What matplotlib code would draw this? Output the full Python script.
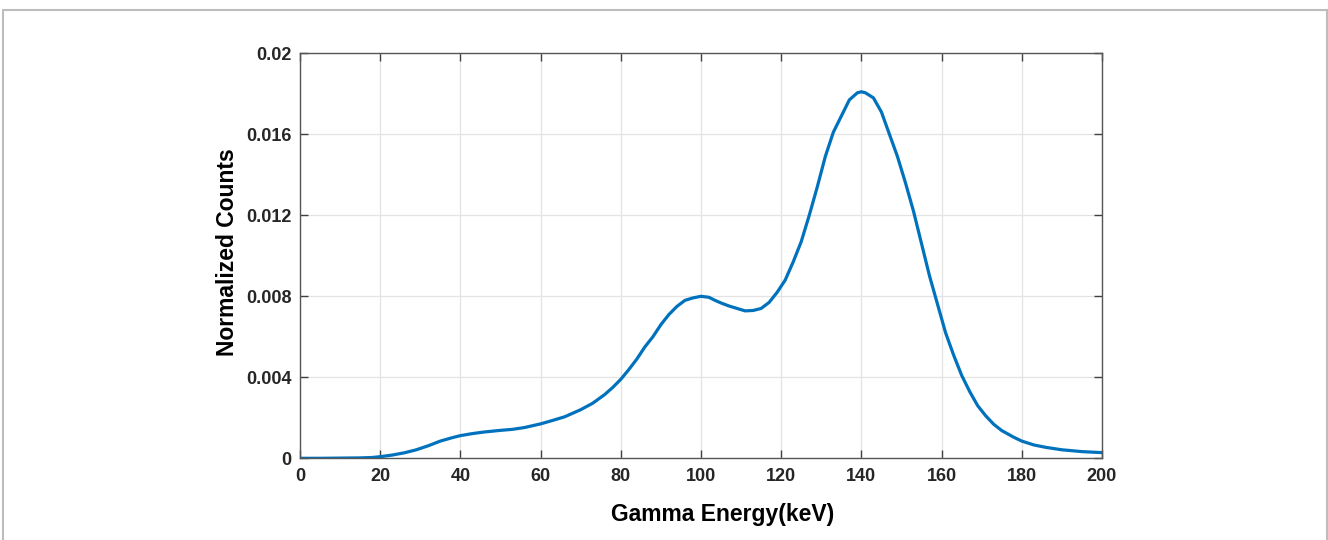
import numpy as np
import matplotlib
matplotlib.use("Agg")
import matplotlib.pyplot as plt
from matplotlib.patches import Rectangle

plt.rcParams['font.family'] = ['Liberation Sans', 'DejaVu Sans']

# energia (keV) y cuentas normalizadas
energy = [0, 5, 10, 15, 18, 20, 23, 26, 29, 32, 35, 38, 40, 43, 46, 50, 53, 56,
          60, 63, 66, 70, 73, 76, 78, 80, 82, 84, 86, 88, 90, 92, 94, 96, 98,
          100, 102, 103.5, 105, 107, 109, 111, 113, 115, 117, 119, 121, 123,
          125, 127, 129, 131, 133, 135, 137, 139, 140, 141, 143, 145, 147, 149,
          151, 153, 155, 157, 159, 161, 163, 165, 167, 169, 171, 173, 175, 178,
          180, 183, 186, 190, 195, 200]
counts = [0, 0, 0.00001, 0.00002, 0.00004, 0.00008, 0.00016, 0.00027, 0.00042,
          0.00062, 0.00085, 0.00102, 0.00112, 0.00122, 0.0013, 0.00138, 0.00143,
          0.00152, 0.0017, 0.00187, 0.00205, 0.0024, 0.00272, 0.00315, 0.0035,
          0.0039, 0.00438, 0.0049, 0.0055, 0.0060, 0.0066, 0.0071, 0.0075,
          0.0078, 0.00792, 0.0080, 0.00795, 0.0078, 0.00767, 0.00752, 0.0074,
          0.00728, 0.0073, 0.0074, 0.0077, 0.0082, 0.0088, 0.0097, 0.0107,
          0.0120, 0.0134, 0.0149, 0.0161, 0.0169, 0.0177, 0.01805, 0.0181,
          0.01805, 0.0178, 0.0171, 0.0160, 0.0149, 0.0136, 0.0122, 0.0106,
          0.0090, 0.0076, 0.0062, 0.0051, 0.0041, 0.0033, 0.0026, 0.0021,
          0.00168, 0.00137, 0.00104, 0.00085, 0.00066, 0.00054, 0.00042,
          0.00033, 0.00028]

x_ticks = [0, 20, 40, 60, 80, 100, 120, 140, 160, 180, 200]
y_ticks = [0, 0.004, 0.008, 0.012, 0.016, 0.02]
y_ticklabels = ['0', '0.004', '0.008', '0.012', '0.016', '0.02']

fig = plt.figure(figsize=(13.28, 5.40), dpi=100)
ax = fig.add_axes([0.2259, 0.1513, 0.6039, 0.75])

ax.plot(energy, counts, color='#0072BD', lw=2.3)

ax.set_xlim(0, 200)
ax.set_ylim(0, 0.02)
ax.set_xticks(x_ticks)
ax.set_yticks(y_ticks)
ax.set_yticklabels(y_ticklabels)
ax.grid(True, color='#e3e3e3', lw=0.9)
ax.set_axisbelow(True)

ax.tick_params(direction='in', length=6, width=1, color='#404040',
               top=True, right=True, labelsize=13, labelcolor='#262626')
ax.tick_params(axis='x', pad=7)
ax.tick_params(axis='y', pad=6)
for lab in ax.get_xticklabels() + ax.get_yticklabels():
    lab.set_fontweight('bold')
for s in ax.spines.values():
    s.set_color('#555555')
    s.set_linewidth(1.0)

ax.set_xlabel('Gamma Energy(keV)', fontsize=16.5, fontweight='bold')
ax.set_ylabel('Normalized Counts', fontsize=16.5, fontweight='bold')
ax.xaxis.set_label_coords(0.527, -0.11)
ax.yaxis.set_label_coords(-0.0765, 0.51)

# marco gris claro alrededor de la figura
fig.patches.append(Rectangle((3 / 1328, -0.05), 1324 / 1328, 1.05 - 10 / 540,
                             transform=fig.transFigure, fill=False,
                             edgecolor='#bdbdbd', lw=1.5))

fig.savefig('out.png', dpi=100)
